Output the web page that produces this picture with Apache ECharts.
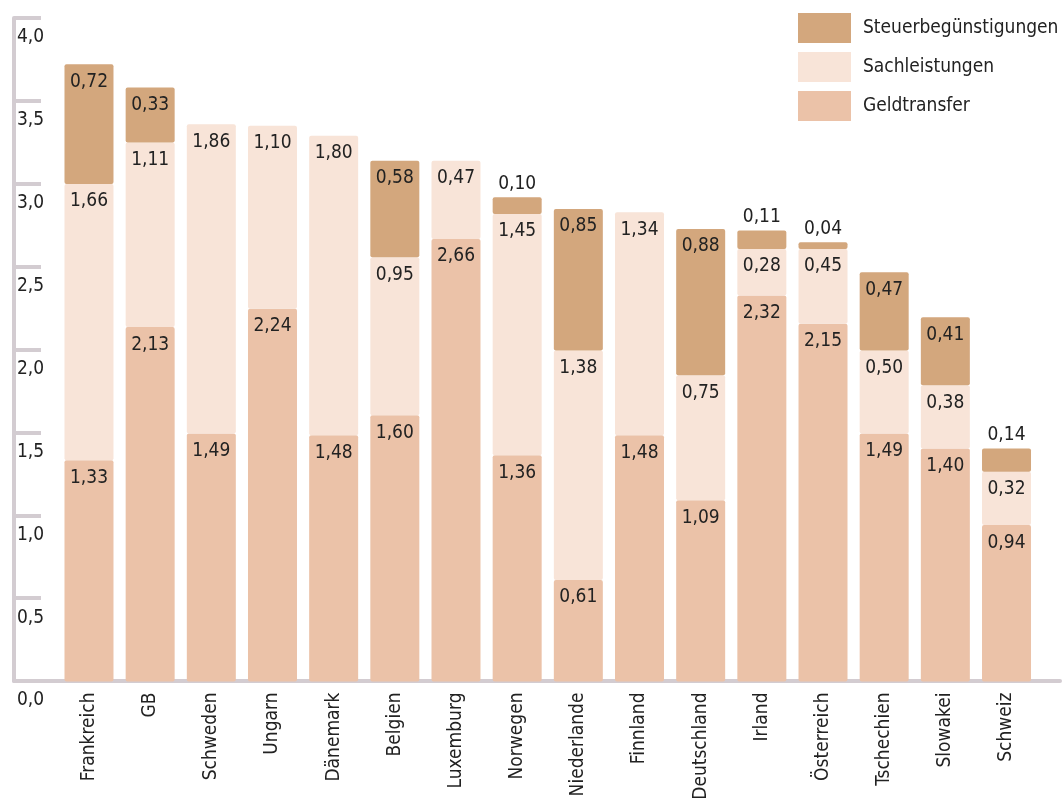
<!DOCTYPE html>
<html>
<head>
<meta charset="utf-8">
<script src="https://cdn.jsdelivr.net/npm/echarts@6/dist/echarts.min.js"></script>
<style>
  html, body { margin: 0; padding: 0; background: #fff; }
  #chart { width: 1062px; height: 798px; }
</style>
</head>
<body>
<div id="chart"></div>
<script>
// Länder
const countries = ['Frankreich', 'GB', 'Schweden', 'Ungarn', 'Dänemark', 'Belgien', 'Luxemburg', 'Norwegen',
  'Niederlande', 'Finnland', 'Deutschland', 'Irland', 'Österreich', 'Tschechien', 'Slowakei', 'Schweiz']

// Werte in % des BIP
const geldtransfer = [1.33, 2.13, 1.49, 2.24, 1.48, 1.60, 2.66, 1.36, 0.61, 1.48, 1.09, 2.32, 2.15, 1.49, 1.40, 0.94]
const sachleistungen = [1.66, 1.11, 1.86, 1.10, 1.80, 0.95, 0.47, 1.45, 1.38, 1.34, 0.75, 0.28, 0.45, 0.50, 0.38, 0.32]
const steuer = [0.72, 0.33, null, null, null, 0.58, null, 0.10, 0.85, null, 0.88, 0.11, 0.04, 0.47, 0.41, 0.14]

const yTicks = [0, 0.5, 1, 1.5, 2, 2.5, 3, 3.5, 4]

const FONT = "'DejaVu Sans Condensed', 'DejaVu Sans', sans-serif"
const FS = 19
const AXIS_COLOR = '#d3ccd1'
const COLORS = {
  steuer: '#d3a77d',
  sach: '#f8e4d8',
  geld: '#ebc2a8'
}

const fmt = (v) => v.toFixed(2).replace('.', ',')

// kleine Segmente bekommen die Beschriftung über dem Balken
const toData = (arr) => arr.map(v => {
  if (v == null) return null
  if (v < 0.2) return { value: v, label: { position: 'top', distance: 4 } }
  return v
})

const makeSeries = (name, arr, color) => ({
  name,
  type: 'bar',
  stack: 'total',
  xAxisIndex: 1,
  yAxisIndex: 1,
  barWidth: 49,
  data: toData(arr),
  itemStyle: { color, borderRadius: 2 },
  label: {
    show: true,
    position: 'insideTop',
    distance: 8,
    color: '#222',
    fontFamily: FONT,
    fontSize: FS,
    formatter: (p) => fmt(p.value)
  }
})

const chart = echarts.init(document.getElementById('chart'))

const option = {
  animation: false,
  textStyle: { fontFamily: FONT },
  grid: [
    // Rahmen (Achsenlinien)
    { left: 14, right: 2, top: 18, bottom: 117, outerBoundsMode: 'none' },
    // Balken
    { left: 58.4, right: 24.9, top: 16, bottom: 116.5, outerBoundsMode: 'none' }
  ],
  legend: {
    orient: 'vertical',
    left: 798,
    top: 13,
    padding: 0,
    itemWidth: 53,
    itemHeight: 30,
    itemGap: 9,
    icon: 'rect',
    data: ['Steuerbegünstigungen', 'Sachleistungen', 'Geldtransfer'],
    textStyle: { fontFamily: FONT, fontSize: FS, color: '#222', padding: [0, 0, 0, 7] }
  },
  xAxis: [
    {
      type: 'value',
      gridIndex: 0,
      min: 0,
      max: 1,
      axisLine: { show: true, lineStyle: { color: AXIS_COLOR, width: 4 } },
      axisTick: { show: false },
      axisLabel: { show: false },
      splitLine: { show: false }
    },
    {
      type: 'category',
      gridIndex: 1,
      data: countries,
      axisLine: { show: false },
      axisTick: { show: false },
      axisLabel: {
        rotate: 90,
        margin: 11,
        interval: 0,
        color: '#222',
        fontFamily: FONT,
        fontSize: FS
      }
    }
  ],
  yAxis: [
    {
      type: 'value',
      gridIndex: 0,
      min: 0,
      max: 4,
      interval: 0.5,
      axisLine: { show: true, lineStyle: { color: AXIS_COLOR, width: 4 } },
      axisTick: { show: true, inside: true, length: 27, lineStyle: { color: AXIS_COLOR, width: 4 } },
      axisLabel: {
        inside: true,
        margin: 3,
        verticalAlign: 'top',
        padding: [10, 0, 0, 0],
        color: '#222',
        fontFamily: FONT,
        fontSize: FS,
        formatter: (v) => (yTicks.includes(v) ? v.toFixed(1).replace('.', ',') : '')
      },
      splitLine: { show: false }
    },
    {
      type: 'value',
      gridIndex: 1,
      min: 0,
      max: 4,
      show: false
    }
  ],
  series: [
    makeSeries('Geldtransfer', geldtransfer, COLORS.geld),
    makeSeries('Sachleistungen', sachleistungen, COLORS.sach),
    makeSeries('Steuerbegünstigungen', steuer, COLORS.steuer)
  ]
}

chart.setOption(option)
window.addEventListener('resize', () => chart.resize())
</script>
</body>
</html>
